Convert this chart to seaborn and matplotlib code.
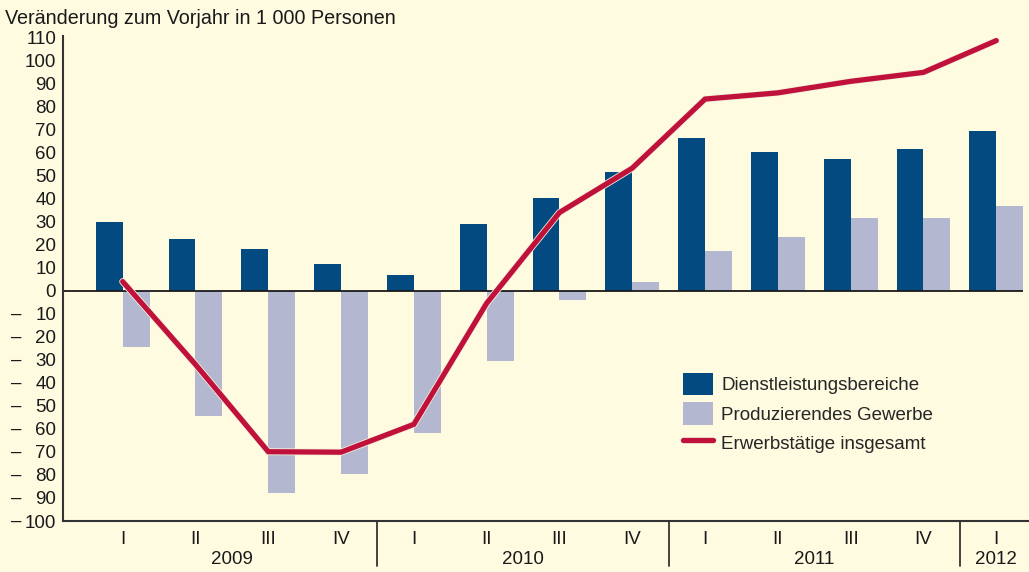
import seaborn as sns
import matplotlib.pyplot as plt
import matplotlib.transforms as mtransforms
import matplotlib.patheffects as pe
import numpy as np
import pandas as pd

# values (change vs. previous year, 1 000 persons)
quarters = ['I', 'II', 'III', 'IV', 'I', 'II', 'III', 'IV', 'I', 'II', 'III', 'IV', 'I']
years = ['2009', '2010', '2011', '2012']
year_pos = [1.5, 5.5, 9.5, 12]
dienst = [30, 22.6, 18.3, 11.7, 7, 29, 40.4, 51.7, 66.5, 60.4, 57.4, 61.7, 69.6]
gewerbe = [-24.6, -54.2, -87.7, -79.4, -61.6, -30.7, -3.8, 3.9, 17.4, 23.5, 31.7, 31.7, 37]
gesamt = [4.0, -32, -69.9, -70.1, -58, -5.4, 34, 53.3, 83.3, 86, 91, 94.9, 108.7]

lab_d = 'Dienstleistungsbereiche'
lab_g = 'Produzierendes Gewerbe'
lab_e = 'Erwerbstätige insgesamt'

bg = '#FEFBE1'
c_dark = '#034A80'
c_light = '#B3B8D0'
c_line = '#C0113A'
ink = '#1a1a1a'
fs = 13.5

sns.set_style('white')
plt.rcParams['font.family'] = ['Liberation Sans', 'DejaVu Sans']

idx = np.arange(len(quarters))
df = pd.DataFrame({
    'pos': np.concatenate([idx, idx]),
    'wert': dienst + gewerbe,
    'reihe': [lab_d] * len(idx) + [lab_g] * len(idx),
})

fig = plt.figure(figsize=(10.29, 5.72), dpi=100, facecolor=bg)
ax = fig.add_axes([63 / 1029, 1 - 521 / 572, 1 - 63 / 1029, (521 - 36) / 572])
ax.set_facecolor(bg)

sns.barplot(data=df, x='pos', y='wert', hue='reihe', hue_order=[lab_d, lab_g],
            palette=[c_dark, c_light], width=0.74, dodge=True, saturation=1,
            errorbar=None, native_scale=True, ax=ax, linewidth=0)

sns.lineplot(x=idx, y=gesamt, color=c_line, linewidth=3.8, label=lab_e, ax=ax,
             solid_capstyle='round', solid_joinstyle='miter',
             path_effects=[pe.Stroke(linewidth=5.0, foreground='#f4f1dc'), pe.Normal()])

ax.set_xlim(-0.82, 12.45)
ax.set_ylim(-100, 110.7)
ax.hlines(0, -0.82, 12.37, color=ink, linewidth=1.3, zorder=1.5)

for s in ['top', 'right']:
    ax.spines[s].set_visible(False)
for s in ['left', 'bottom']:
    ax.spines[s].set_color('#333333')
    ax.spines[s].set_linewidth(1.5)

yt = np.arange(-100, 111, 10)
ax.set_yticks(yt)
ax.set_yticklabels([str(abs(v)) for v in yt])
ax.tick_params(axis='y', direction='in', length=7, width=1.3, color='#333333',
               labelsize=fs, pad=5, labelcolor=ink)
trans = mtransforms.blended_transform_factory(fig.transFigure, ax.transData)
for v in yt:
    if v < 0:
        fig.text(16 / 1029, v, '–', transform=trans, ha='center', va='center',
                 fontsize=fs, color=ink)

ax.set_xticks(idx)
ax.set_xticklabels(quarters)
ax.tick_params(axis='x', length=0, labelsize=fs, pad=7, labelcolor=ink)
ax.set_xlabel('')
ax.set_ylabel('')

xtrans = mtransforms.blended_transform_factory(ax.transData, fig.transFigure)
for x in [3.5, 7.5, 11.5]:
    ax.plot([x, x], [1 - 521 / 572, 1 - 566 / 572], transform=xtrans, color='#333333',
            linewidth=1.3, clip_on=False)
for y, x in zip(years, year_pos):
    ax.text(x, 1 - 560 / 572, y, transform=xtrans, ha='center', va='center',
            fontsize=fs, color=ink)

fig.text(5 / 1029, 1 - 18 / 572, 'Veränderung zum Vorjahr in 1 000 Personen',
         ha='left', va='center', fontsize=14.2, color=ink)

h, l = ax.get_legend_handles_labels()
order = [l.index(lab_d), l.index(lab_g), l.index(lab_e)]
ax.legend([h[i] for i in order], [l[i] for i in order], loc='upper left',
          bbox_to_anchor=(683 / 1029, 1 - 373 / 572), bbox_transform=fig.transFigure,
          frameon=False, fontsize=fs, borderpad=0, borderaxespad=0,
          handlelength=1.6, handleheight=1.45, labelspacing=0.38, handletextpad=0.45)

fig.savefig('out.png', dpi=100, facecolor=bg)
